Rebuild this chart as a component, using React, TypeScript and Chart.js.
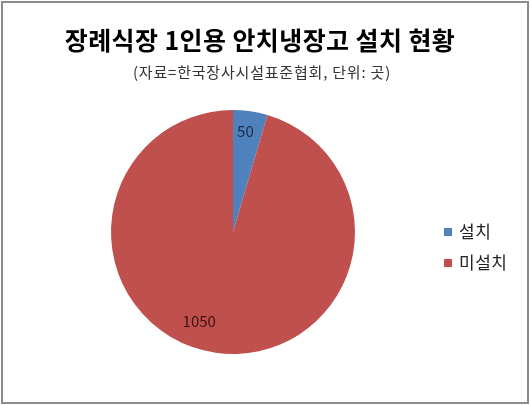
import React, { useEffect, useRef } from 'react';
import { Chart, registerables } from 'chart.js';

Chart.register(...registerables);

const labels = ['설치', '미설치'];
const values = [50, 1050];
const colors = ['#4F81BD', '#C0504D'];
const labelColors = ['#1d2c45', '#3a1010'];
const title = '장례식장 1인용 안치냉장고 설치 현황';
const subtitle = '(자료=한국장사시설표준협회, 단위: 곳)';

const FONT = '"Noto Sans CJK KR", "Noto Sans", sans-serif';

// title, subtitle and legend drawn at fixed spots like the Excel original
const headerAndLegend = {
  id: 'headerAndLegend',
  afterDraw(chart: any) {
    const ctx = chart.ctx;
    ctx.save();
    ctx.textAlign = 'center';
    ctx.textBaseline = 'middle';
    ctx.fillStyle = '#000';
    ctx.font = `bold 25px ${FONT}`;
    ctx.letterSpacing = '0.4px';
    ctx.fillText(title, 260, 40);
    ctx.font = `15px ${FONT}`;
    ctx.letterSpacing = '0.8px';
    ctx.fillStyle = '#333';
    ctx.fillText(subtitle, 262, 72);
    ctx.letterSpacing = '0.5px';
    ctx.textAlign = 'left';
    ctx.font = `17px ${FONT}`;
    labels.forEach((lab, i) => {
      const y = 232 + i * 31;
      ctx.fillStyle = colors[i];
      ctx.fillRect(444, y - 4, 8, 8);
      ctx.fillStyle = '#222';
      ctx.fillText(lab, 459, y);
    });
    ctx.restore();
  },
};

const sliceLabels = {
  id: 'sliceLabels',
  afterDatasetsDraw(chart: any) {
    const ctx = chart.ctx;
    const meta = chart.getDatasetMeta(0);
    ctx.save();
    ctx.font = `15px ${FONT}`;
    ctx.textAlign = 'center';
    ctx.textBaseline = 'middle';
    meta.data.forEach((arc: any, i: number) => {
      const { x, y, startAngle, endAngle, outerRadius } = arc.getProps(
        ['x', 'y', 'startAngle', 'endAngle', 'outerRadius'], true);
      const mid = (startAngle + endAngle) / 2 + (i === 1 ? 0.22 : -0.02);
      const r = outerRadius * (i === 0 ? 0.83 : 0.78);
      ctx.fillStyle = labelColors[i];
      ctx.fillText(String(values[i]), x + Math.cos(mid) * r, y + Math.sin(mid) * r);
    });
    ctx.restore();
  },
};

export default function App() {
  const chartRef = useRef<HTMLCanvasElement>(null);

  useEffect(() => {
    document.body.style.margin = '0';
    if (!chartRef.current) return;
    const chart = new Chart(chartRef.current, {
      type: 'pie',
      data: {
        labels,
        datasets: [{
          data: values,
          backgroundColor: colors,
          borderWidth: 0,
        }],
      },
      options: {
        responsive: false,
        animation: false,
        layout: { padding: { left: 111, right: 175, top: 100, bottom: 41 } },
        plugins: {
          legend: { display: false },
          tooltip: { enabled: false },
          title: { display: false },
        },
      },
      plugins: [sliceLabels, headerAndLegend],
    });
    return () => chart.destroy();
  }, []);

  return (
    <div style={{ position: 'relative', width: 530, height: 405, background: '#fff' }}>
      <canvas ref={chartRef} width={530} height={405} style={{ position: 'absolute', left: 0, top: 0 }} />
      <div style={{
        position: 'absolute', left: 1, top: 1, width: 528, height: 403,
        boxSizing: 'border-box', border: '2px solid #8c8c8c', pointerEvents: 'none',
      }} />
    </div>
  );
}
